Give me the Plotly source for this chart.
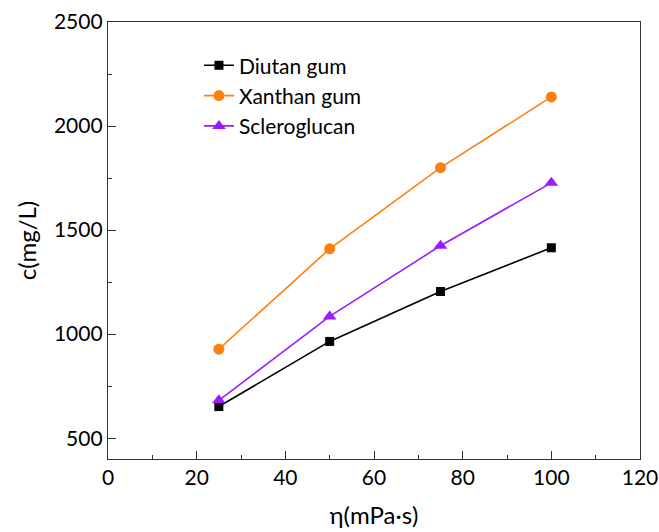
import plotly.graph_objects as go

x_vals = [25, 50, 75, 100]
diutan = [652, 965, 1205, 1415]
xanthan = [928, 1410, 1800, 2140]
sclero = [682, 1085, 1425, 1727]

series = [
    ("Diutan gum", diutan, "#000000", "square", 9),
    ("Xanthan gum", xanthan, "#FF7F0E", "circle", 11),
    ("Scleroglucan", sclero, "#9B1BFF", "triangle-up", 12),
]

fig = go.Figure()
for name, ys, col, sym, sz in series:
    fig.add_trace(go.Scatter(x=x_vals, y=ys, name=name, mode="lines+markers",
                             line=dict(color=col, width=1.6),
                             marker=dict(symbol=sym, size=sz, color=col)))

tfont = dict(family="Lato, Calibri, sans-serif", size=21, color="#000000")
ttl = dict(family="Lato, Calibri, sans-serif", size=24, color="#000000")
axis_common = dict(showline=True, linecolor="#333333", linewidth=1.3, mirror=True,
                   ticks="inside", ticklen=8, tickcolor="#333333", showgrid=False,
                   zeroline=False, tickfont=tfont, automargin=False)
fig.update_layout(
    width=659, height=532,
    margin=dict(l=108, r=19, t=22, b=73),
    plot_bgcolor="white", paper_bgcolor="white",
    font=tfont,
    xaxis=dict(range=[0, 120], tickvals=[0, 20, 40, 60, 80, 100, 120],
               minor=dict(ticks="inside", ticklen=4, tickcolor="#333333", dtick=10, tick0=0),
               title=dict(text="η(mPa·s)", font=ttl, standoff=18), **axis_common),
    yaxis=dict(range=[400, 2500], tickvals=[500, 1000, 1500, 2000, 2500],
               minor=dict(ticks="inside", ticklen=4, tickcolor="#333333", dtick=250, tick0=500),
               title=dict(text="c(mg/L)", font=ttl, standoff=10), **axis_common),
    legend=dict(x=0.171, y=0.947, xanchor="left", yanchor="top", bgcolor="rgba(0,0,0,0)",
                font=tfont, tracegroupgap=0, itemsizing="trace"),
    showlegend=True,
)
fig.write_html("out.html")
